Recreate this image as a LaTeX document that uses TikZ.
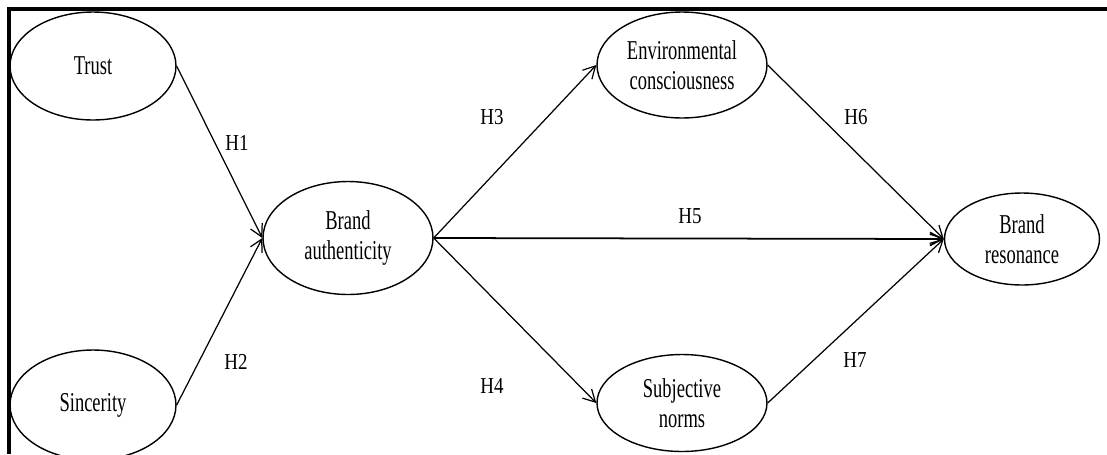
\documentclass[tikz,border=0pt]{standalone}
\usepackage{fontspec}
\setmainfont{Liberation Serif}[FakeStretch=0.68]
\newfontfamily\hypfont{Liberation Serif}[FakeStretch=0.83]
\usetikzlibrary{shapes.geometric,arrows.meta}

\begin{document}
\begin{tikzpicture}[x=0.02cm, y=-0.02cm,
    construct/.style={draw, ellipse, line width=0.8pt, align=center, inner sep=0pt,
        font=\fontsize{15.5}{17}\selectfont},
    hyp/.style={font=\hypfont\fontsize{13}{15}\selectfont},
    >={Straight Barb[length=2.4mm, width=2.6mm]}]
    \clip (0,0) rectangle (1107,454);

    % Frame (top and left only)
    \draw[line width=2.2pt] (1107,9) -- (9,9) -- (9,454);

    % Constructs
    \node[construct, minimum width=3.32cm, minimum height=2.16cm] (trust) at (93,66) {Trust};
    \node[construct, minimum width=3.32cm, minimum height=2.2cm] (sinc) at (93,405) {Sincerity};
    \node[construct, minimum width=3.4cm, minimum height=2.26cm] (auth) at (348,238) {Brand\\authenticity};
    \node[construct, minimum width=3.4cm, minimum height=2.12cm] (env) at (682,65) {Environmental\\consciousness};
    \node[construct, minimum width=3.4cm, minimum height=1.94cm] (norm) at (682,403) {Subjective\\norms};
    \node[construct, minimum width=3.1cm, minimum height=1.84cm] (reso) at (1022,239) {Brand\\resonance};

    % Paths
    \draw[->, line width=0.7pt] (trust.east) -- (auth.west);
    \draw[->, line width=0.7pt] (sinc.east) -- (auth.west);
    \draw[->, line width=0.7pt] (auth.east) -- (env.west);
    \draw[->, line width=0.7pt] (auth.east) -- (norm.west);
    \draw[->, line width=1pt] (auth.east) -- (reso.west);
    \draw[->, line width=0.7pt] (env.east) -- (reso.west);
    \draw[->, line width=0.7pt] (norm.east) -- (reso.west);

    % Hypotheses
    \node[hyp] (h1) at (237,143) {H1};
    \node[hyp] (h2) at (236,362) {H2};
    \node[hyp] (h3) at (492,117) {H3};
    \node[hyp] (h4) at (492,386) {H4};
    \node[hyp] (h5) at (690,216) {H5};
    \node[hyp] (h6) at (856,117) {H6};
    \node[hyp] (h7) at (855,360) {H7};
\end{tikzpicture}
\end{document}
